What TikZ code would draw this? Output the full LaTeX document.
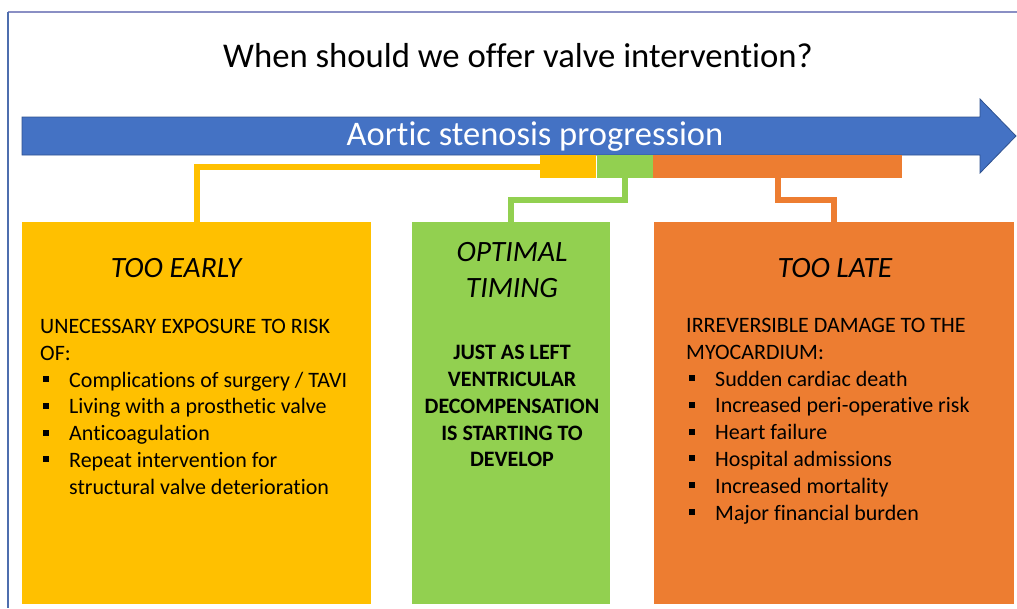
\documentclass[tikz,border=0pt]{standalone}
\usepackage{fontspec}
\setmainfont{Carlito}[Ligatures=NoCommon]
\usepackage{xcolor}
\usetikzlibrary{calc,positioning}

\definecolor{asblue}{HTML}{4472C4}
\definecolor{asedge}{HTML}{2F528F}
\definecolor{early}{HTML}{FFC000}
\definecolor{optimal}{HTML}{92D050}
\definecolor{late}{HTML}{ED7D31}
\definecolor{frametop}{HTML}{8A8FC4}
\definecolor{frameleft}{HTML}{4E6EAE}

% square bullet for the lists
\newcommand{\sqb}{\hspace*{3pt}\rule[5pt]{6pt}{6pt}\hspace*{20pt}}

\begin{document}
\begin{tikzpicture}[
  x=1pt,y=-1pt,
  line join=miter,
  segment/.style={inner sep=0pt,minimum height=23pt},
  stagebox/.style={inner sep=0pt,minimum height=382pt,anchor=north west},
  link/.style={line width=6pt},
  heading/.style={font=\fontsize{29.5}{36}\selectfont\itshape,align=center},
  bodytext/.style={font=\fontsize{22}{26.8}\selectfont,align=left,
    anchor=north west,inner sep=0pt}
]
\path[use as bounding box] (0,0) rectangle (1017,608);

% frame lines
\draw[frametop,line width=1.5pt] (8,12) -- (1017,12);
\draw[frameleft,line width=1.5pt] (8,12) -- (8,608);

\node[font=\fontsize{34.7}{40}\selectfont] (title) at (518,56)
  {When should we offer valve intervention?};

% timeline arrow
\filldraw[fill=asblue,draw=asedge,line width=0.8pt]
  (22,117) -- (980,117) -- (980,99) -- (1016,136) -- (980,173)
  -- (980,155) -- (22,155) -- cycle;
\node[text=white,font=\fontsize{34.5}{40}\selectfont] (progress) at (535,136.5)
  {Aortic stenosis progression};

% stage segments under the arrow
\node[segment,fill=early,minimum width=56pt,anchor=north west] (earlyseg) at (540,155) {};
\node[segment,fill=optimal,minimum width=56pt,right=0pt of earlyseg] (optimalseg) {};
\node[segment,fill=late,minimum width=249pt,right=0pt of optimalseg] (lateseg) {};

% stage boxes
\node[stagebox,fill=early,minimum width=349pt] (early) at (22,222) {};
\node[stagebox,fill=optimal,minimum width=198pt] (optimal) at (412,222) {};
\node[stagebox,fill=late,minimum width=360pt] (late) at (654,222) {};

\draw[link,early] (earlyseg.west) -| (early.north);
\draw[link,optimal] (optimalseg.south) -- ++(0,22) -| (optimal.north);
\draw[link,late] (lateseg.south) -- ++(0,22) -| (late.north);

\node[heading] (earlyhead) at (176,268) {TOO EARLY};
\node[heading] (optimalhead) at (512,270) {OPTIMAL\\TIMING};
\node[heading] (latehead) at (835,268) {TOO LATE};

\node[bodytext] (earlylist) at (40,319) {UNECESSARY EXPOSURE TO RISK\\OF:\\
  \sqb Complications of surgery / TAVI\\
  \sqb Living with a prosthetic valve\\
  \sqb Anticoagulation\\
  \sqb Repeat intervention for\\
  \hspace*{29pt}structural valve deterioration};

\node[bodytext,font=\fontsize{22}{26.8}\selectfont\bfseries,align=center,
  anchor=north] (optimaltext) at (512,345)
  {JUST AS LEFT\\VENTRICULAR\\DECOMPENSATION\\IS STARTING TO\\DEVELOP};

\node[bodytext] (latelist) at (686,318) {IRREVERSIBLE DAMAGE TO THE\\MYOCARDIUM:\\
  \sqb Sudden cardiac death\\
  \sqb Increased peri-operative risk\\
  \sqb Heart failure\\
  \sqb Hospital admissions\\
  \sqb Increased mortality\\
  \sqb Major financial burden};
\end{tikzpicture}
\end{document}
